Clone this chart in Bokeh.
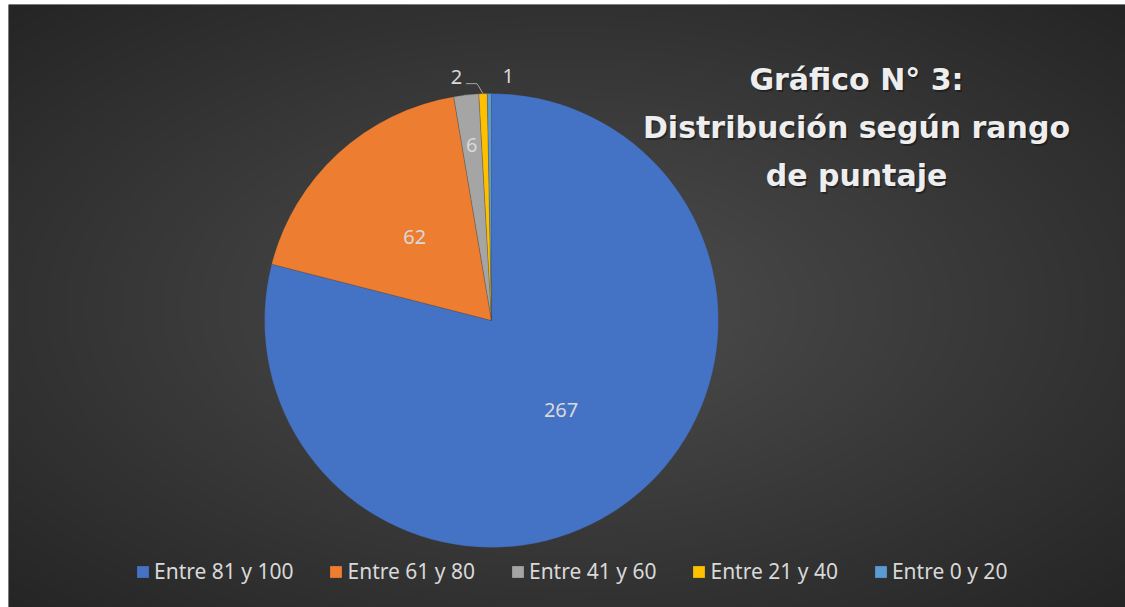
import numpy as np
from bokeh.plotting import figure
from bokeh.models import ColumnDataSource, Range1d
from bokeh.core.properties import value
from bokeh.embed import file_html
from bokeh.resources import INLINE

# ---------------- data ----------------
categories = ["Entre 81 y 100", "Entre 61 y 80", "Entre 41 y 60", "Entre 21 y 40", "Entre 0 y 20"]
counts = [267, 62, 6, 2, 1]
colors = ["#4472C4", "#ED7D31", "#A5A5A5", "#FFC000", "#5B9BD5"]
title_lines = ["Gráfico N° 3:", "Distribución según rango", "de puntaje"]

# ---------------- layout ----------------
FW, FH = 1117, 603          # dark chart area
CX, CY, R = 483, 287, 227
label_rad = [0.5, 0.5, 0.78, 1.075, 1.075]
label_nudge = [0, 0, 0, -26, 19]

p = figure(width=1125, height=607, x_range=Range1d(0, FW), y_range=Range1d(0, FH),
           output_backend="svg", toolbar_location=None,
           min_border_left=8, min_border_top=4, min_border_right=0, min_border_bottom=0,
           x_axis_location=None, y_axis_location=None)
p.grid.visible = False
p.outline_line_color = None
p.background_fill_color = "#333333"
p.border_fill_color = "#ffffff"

# radial gradient background
hw, hh = FW // 2, FH // 2
xs = (np.arange(hw) + 0.5) * FW / hw
ys = (np.arange(hh) + 0.5) * FH / hh
X, Y = np.meshgrid(xs, ys)
d = np.sqrt(((X - 558) / (FW / 2)) ** 2 + ((Y - 300) / (FH / 2)) ** 2) / np.sqrt(2)
v = (78 - (78 - 37) * np.clip(d, 0, 1)).astype(np.uint8)
img = np.empty((hh, hw), dtype=np.uint32)
view = img.view(dtype=np.uint8).reshape((hh, hw, 4))
view[..., 0] = v
view[..., 1] = v
view[..., 2] = v
view[..., 3] = 255
p.image_rgba(image=[img], x=0, y=0, dw=FW, dh=FH)

# ---------------- pie ----------------
total = sum(counts)
cum = np.cumsum([0] + counts)
start = np.pi / 2 - 2 * np.pi * cum[:-1] / total
end = np.pi / 2 - 2 * np.pi * cum[1:] / total
mid = (start + end) / 2

src = ColumnDataSource(dict(cat=categories, count=counts, color=colors,
                            start=start, end=end))
p.wedge(x=CX, y=CY, radius=R, start_angle="start", end_angle="end",
        direction="clock", fill_color="color", line_color="#3a3a3a",
        line_width=0.5, line_alpha=0.5, source=src, legend_field="cat")

# data labels
lx = [CX + R * f * np.cos(a) + n for f, a, n in zip(label_rad, mid, label_nudge)]
ly = [CY + R * f * np.sin(a) for f, a in zip(label_rad, mid)]
lsrc = ColumnDataSource(dict(x=lx, y=ly, t=[str(c) for c in counts]))
p.text(x="x", y="y", text="t", source=lsrc, text_align="center",
       text_baseline="middle", text_font=value("Noto Sans"),
       text_font_size="20px", text_color="#d9d9d9")

# leader line for the "2" label
ex = CX + R * np.cos(mid[3])
ey = CY + R * np.sin(mid[3])
p.line(x=[ex - 17, ex - 6, ex], y=[ey + 10, ey + 10, ey],
       line_color="#a6a6a6", line_width=1)

# ---------------- title ----------------
tx = [848] * 3
ty = [528, 480, 432]
p.text(x=[t + 1.5 for t in tx], y=[t - 2 for t in ty], text=title_lines,
       text_align="center", text_baseline="alphabetic",
       text_font=value("DejaVu Sans"), text_font_style="bold",
       text_font_size="30px", text_color="#000000", text_alpha=0.35)
p.text(x=tx, y=ty, text=title_lines, text_align="center",
       text_baseline="alphabetic", text_font=value("DejaVu Sans"),
       text_font_style="bold", text_font_size="30px", text_color="#eeeeee")

# ---------------- legend ----------------
lg = p.legend[0]
lg.location = (127, 22)
lg.orientation = "horizontal"
lg.label_text_font = "Noto Sans"
lg.label_text_font_size = "21px"
lg.label_text_color = "#d9d9d9"
lg.glyph_width = 15
lg.glyph_height = 15
lg.label_standoff = 4
lg.spacing = 35
lg.padding = 0
lg.margin = 0
lg.label_height = 15
lg.background_fill_alpha = 0
lg.border_line_alpha = 0

open("out.html", "w").write(file_html(p, INLINE))
